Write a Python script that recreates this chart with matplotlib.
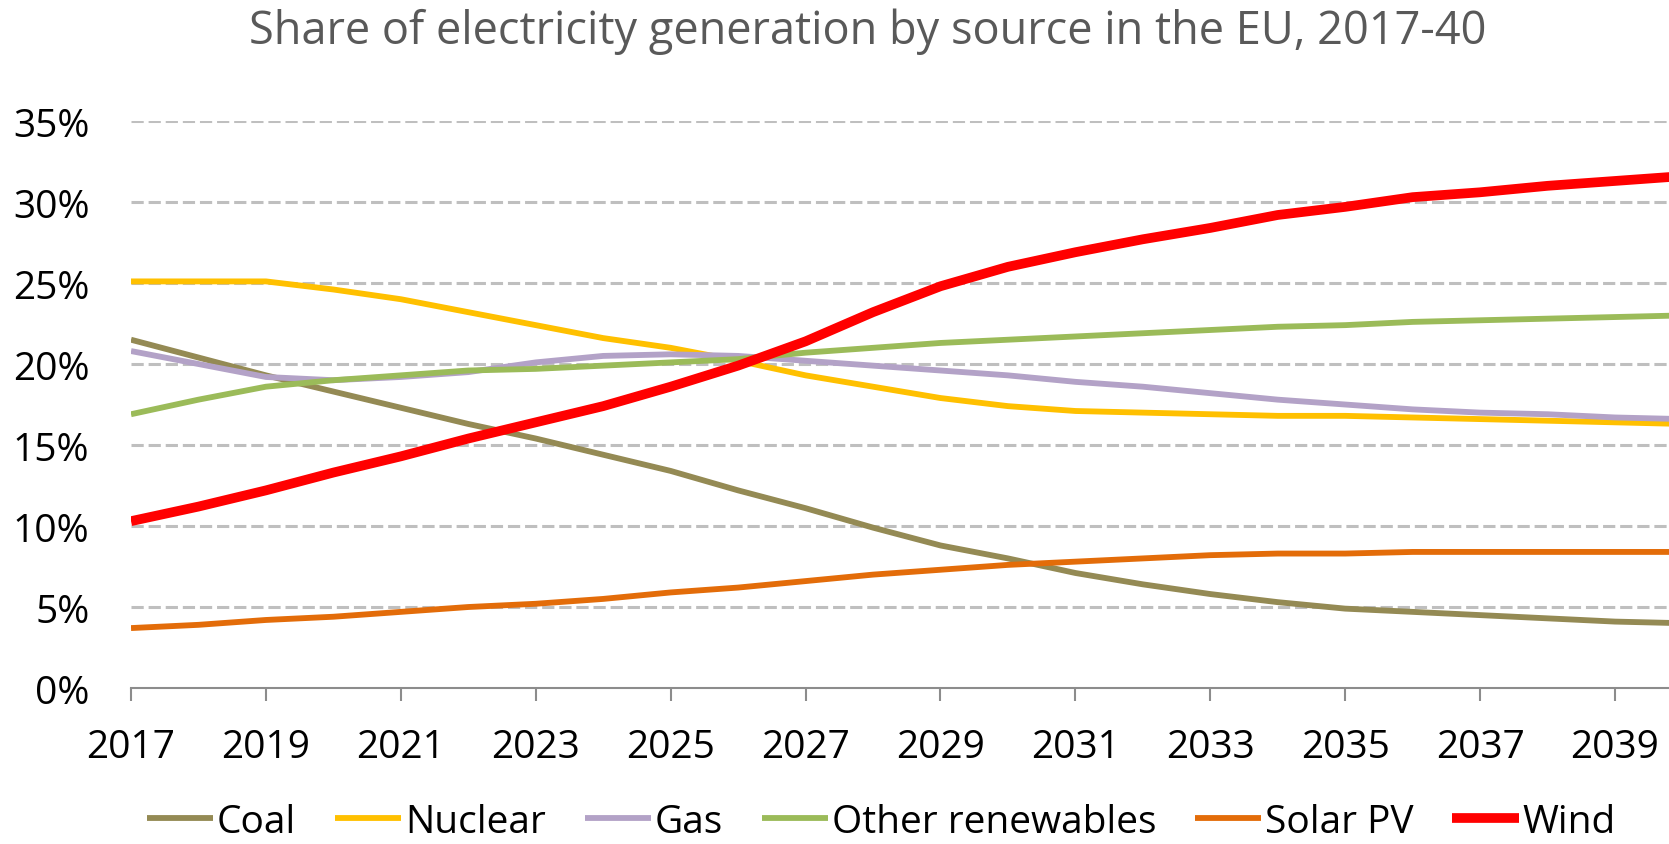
import matplotlib
matplotlib.use("Agg")
import matplotlib.pyplot as plt
from matplotlib.ticker import FuncFormatter

plt.rcParams["font.family"] = ["Open Sans", "DejaVu Sans"]

years = list(range(2017, 2041))

coal = [21.5, 20.4, 19.3, 18.3, 17.3, 16.3, 15.4, 14.4, 13.4, 12.2, 11.1, 9.9,
        8.8, 8.0, 7.1, 6.4, 5.8, 5.3, 4.9, 4.7, 4.5, 4.3, 4.1, 4.0]
nuclear = [25.1, 25.1, 25.1, 24.6, 24.0, 23.2, 22.4, 21.6, 21.0, 20.2, 19.3, 18.6,
           17.9, 17.4, 17.1, 17.0, 16.9, 16.8, 16.8, 16.7, 16.6, 16.5, 16.4, 16.3]
gas = [20.8, 20.0, 19.2, 19.0, 19.2, 19.5, 20.1, 20.5, 20.6, 20.5, 20.2, 19.9,
       19.6, 19.3, 18.9, 18.6, 18.2, 17.8, 17.5, 17.2, 17.0, 16.9, 16.7, 16.6]
other_renewables = [16.9, 17.8, 18.6, 19.0, 19.3, 19.6, 19.7, 19.9, 20.1, 20.3, 20.7, 21.0,
                    21.3, 21.5, 21.7, 21.9, 22.1, 22.3, 22.4, 22.6, 22.7, 22.8, 22.9, 23.0]
solar_pv = [3.7, 3.9, 4.2, 4.4, 4.7, 5.0, 5.2, 5.5, 5.9, 6.2, 6.6, 7.0,
            7.3, 7.6, 7.8, 8.0, 8.2, 8.3, 8.3, 8.4, 8.4, 8.4, 8.4, 8.4]
wind = [10.3, 11.2, 12.2, 13.3, 14.3, 15.4, 16.4, 17.4, 18.6, 19.9, 21.4, 23.2,
        24.8, 26.0, 26.9, 27.7, 28.4, 29.2, 29.7, 30.3, 30.6, 31.0, 31.3, 31.6]

series = [
    ("Coal", coal, "#948A54", 4.2),
    ("Nuclear", nuclear, "#FFC000", 4.2),
    ("Gas", gas, "#B3A2C7", 4.2),
    ("Other renewables", other_renewables, "#9BBB59", 4.2),
    ("Solar PV", solar_pv, "#E36C09", 4.2),
    ("Wind", wind, "#FF0000", 7),
]

fig = plt.figure(figsize=(16.69, 8.45), dpi=100)
ax = fig.add_axes([0.0785, 0.1846, 0.9215, 0.671])

for name, vals, color, lw in series:
    ax.plot(years, [v / 100 for v in vals], color=color, lw=lw, label=name,
            solid_capstyle="butt", solid_joinstyle="round", zorder=3)

# axes
ax.set_xlim(2017, 2039.8)
ax.set_ylim(0, 0.35)
ax.set_yticks([i * 0.05 for i in range(8)])
ax.yaxis.set_major_formatter(FuncFormatter(lambda v, p: f"{v * 100:.0f}%"))
ax.set_xticks(range(2017, 2040, 2))

for y in [i * 0.05 for i in range(1, 8)]:
    ax.axhline(y, color="#BFBFBF", lw=2.2, dashes=(4, 1.6), zorder=1)

for s in ["top", "right", "left"]:
    ax.spines[s].set_visible(False)
ax.spines["bottom"].set_color("#8C8C8C")
ax.spines["bottom"].set_linewidth(1.5)

ax.tick_params(axis="y", length=0, pad=30, labelsize=28, labelcolor="black")
ax.tick_params(axis="x", direction="out", length=9, width=1.5, color="#8C8C8C",
               pad=20, labelsize=28, labelcolor="black")

fig.suptitle("Share of electricity generation by source in the EU, 2017-40",
             fontsize=32.5, color="#595959", x=0.52, y=0.962, va="center")

fig.legend(loc="center", bbox_to_anchor=(0.528, 0.026), ncol=6, frameon=False,
           fontsize=28, handlelength=1.7, handletextpad=0.1, columnspacing=1.0,
           borderpad=0.2)

plt.savefig("out.png", dpi=100)
